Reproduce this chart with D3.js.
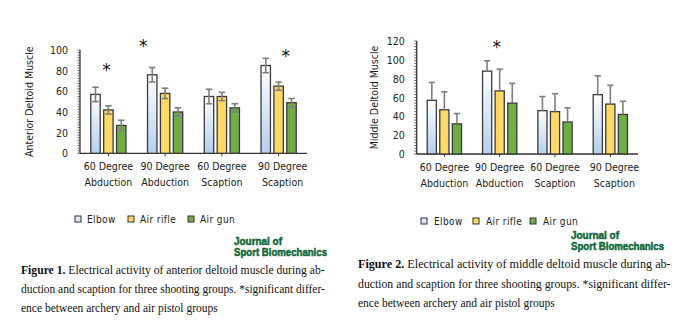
<!DOCTYPE html>
<html>
<head>
<meta charset="utf-8">
<script src="https://cdn.jsdelivr.net/npm/d3@7"></script>
<style>
  body { margin: 0; background: #fff; }
  svg { display: block; }
</style>
</head>
<body>
<div class="chart"></div>
<script>
// categories and groups
var categories = ["60 Degree|Abduction", "90 Degree|Abduction", "60 Degree|Scaption", "90 Degree|Scaption"];
var groups = ["Elbow", "Air rifle", "Air gun"];

// anterior deltoid (figure 1)
var anteriorMean = [[57, 42, 27], [76, 58, 40], [55, 55, 44], [85, 65, 49]];
var anteriorSd   = [[7, 4, 5], [7, 5, 4], [7, 4, 4], [7, 4, 4]];
var anteriorTicks = [0, 20, 40, 60, 80, 100];
var anteriorStars = [{cat: 0, level: 83}, {cat: 1, level: 106}, {cat: 3, level: 96}];

// middle deltoid (figure 2)
var middleMean = [[57, 47, 32], [88, 67, 54], [46, 45, 34], [63, 53, 42]];
var middleSd   = [[19, 19, 11], [11, 23, 21], [15, 19, 15], [20, 20, 14]];
var middleTicks = [0, 20, 40, 60, 80, 100, 120];
var middleStars = [{cat: 1, level: 116}];

var caption1 = ["Electrical activity of anterior deltoid muscle during ab-",
                "duction and scaption for three shooting groups. *significant differ-",
                "ence between archery and air pistol groups"];
var caption2 = ["Electrical activity of middle deltoid muscle during ab-",
                "duction and scaption for three shooting groups. *significant differ-",
                "ence between archery and air pistol groups"];

var fills = ["url(#gradElbow)", "#ffd966", "#70ad47"];
var legendFills = ["#dde9f6", "#ffd966", "#70ad47"];
var sansFont = "'DejaVu Sans Condensed', 'DejaVu Sans', sans-serif";

var svg = d3.select("body div.chart").append("svg").attr("width", 697).attr("height", 324);

var defs = svg.append("defs");
var grad = defs.append("linearGradient").attr("id", "gradElbow")
                .attr("x1", 0).attr("y1", 0).attr("x2", 0).attr("y2", 1);
grad.append("stop").attr("offset", "0%").attr("stop-color", "#ffffff");
grad.append("stop").attr("offset", "100%").attr("stop-color", "#b4cfec");

function drawChart(opt) {
    var g = svg.append("g");

    var x = d3.scaleBand().domain(d3.range(categories.length))
                .range([opt.left, opt.right]).paddingInner(0.38).paddingOuter(0.19);
    var xi = d3.scaleBand().domain(d3.range(groups.length))
                .range([0, x.bandwidth()]).paddingInner(0.27);
    var y = d3.scaleLinear().domain([0, opt.max]).range([opt.bottom, opt.top]);

    // y axis with minor ticks
    g.append("line").attr("x1", opt.left).attr("x2", opt.left)
        .attr("y1", y(0)).attr("y2", y(opt.max)).attr("stroke", "#333").attr("stroke-width", 1.3);
    g.selectAll("line.minor").data(d3.range(0, opt.max + 0.01, opt.minor))
        .enter().append("line").attr("class", "minor")
        .attr("x1", opt.left - 2.5).attr("x2", opt.left)
        .attr("y1", function(d) { return y(d); }).attr("y2", function(d) { return y(d); })
        .attr("stroke", "#444").attr("stroke-width", 0.8);
    g.selectAll("text.ytick").data(opt.ticks)
        .enter().append("text").attr("class", "ytick")
        .attr("x", opt.left - 12).attr("y", function(d) { return y(d) + 4; })
        .attr("text-anchor", "end").attr("font-family", sansFont).attr("font-size", 10.5)
        .attr("fill", "#222").text(function(d) { return d; });

    // x axis
    g.append("line").attr("x1", opt.left).attr("x2", opt.right)
        .attr("y1", y(0)).attr("y2", y(0)).attr("stroke", "#333").attr("stroke-width", 1.3);
    g.selectAll("line.xtick").data(d3.range(categories.length))
        .enter().append("line").attr("class", "xtick")
        .attr("x1", function(d) { return x(d) + x.bandwidth() / 2; })
        .attr("x2", function(d) { return x(d) + x.bandwidth() / 2; })
        .attr("y1", y(0)).attr("y2", y(0) + 3).attr("stroke", "#333");

    var catLabel = g.selectAll("text.cat").data(categories)
        .enter().append("text").attr("class", "cat")
        .attr("text-anchor", "middle").attr("font-family", sansFont).attr("font-size", 10.5)
        .attr("fill", "#222");
    catLabel.each(function(d, i) {
        var parts = d.split("|");
        var cx = x(i) + x.bandwidth() / 2 + (i == 3 ? 4 : 0);
        d3.select(this).selectAll("tspan").data(parts).enter().append("tspan")
            .attr("x", cx).attr("y", function(p, j) { return y(0) + 17 + j * 16; })
            .text(function(p) { return p; });
    });

    // y title
    g.append("text")
        .attr("transform", "translate(" + opt.titleX + "," + (y(0) + y(opt.max)) / 2 + ") rotate(-90)")
        .attr("text-anchor", "middle").attr("font-family", sansFont).attr("font-size", 10.5)
        .attr("fill", "#222").text(opt.title);

    // bars
    var cells = [];
    opt.mean.forEach(function(row, i) {
        row.forEach(function(v, j) { cells.push({c: i, s: j, v: v, sd: opt.sd[i][j]}); });
    });

    var bx = function(d) { return x(d.c) + xi(d.s); };

    g.selectAll("rect.bar").data(cells)
        .enter().append("rect").attr("class", "bar")
        .attr("x", bx).attr("y", function(d) { return y(d.v); })
        .attr("width", xi.bandwidth()).attr("height", function(d) { return y(0) - y(d.v); })
        .attr("fill", function(d) { return fills[d.s]; })
        .attr("stroke", "#3a3a3a").attr("stroke-width", 1.3);

    // error bars
    var eb = g.selectAll("g.err").data(cells).enter().append("g").attr("class", "err")
                .attr("stroke", "#7f7f7f").attr("stroke-width", 1.6);
    eb.append("line")
        .attr("x1", function(d) { return bx(d) + xi.bandwidth() / 2; })
        .attr("x2", function(d) { return bx(d) + xi.bandwidth() / 2; })
        .attr("y1", function(d) { return y(d.v + d.sd); })
        .attr("y2", function(d) { return opt.both ? y(d.v - d.sd) : y(d.v); });
    eb.append("line")
        .attr("x1", function(d) { return bx(d) + 1.5; })
        .attr("x2", function(d) { return bx(d) + xi.bandwidth() - 1.5; })
        .attr("y1", function(d) { return y(d.v + d.sd); })
        .attr("y2", function(d) { return y(d.v + d.sd); });
    if (opt.both) {
        eb.append("line")
            .attr("x1", function(d) { return bx(d) + 1.5; })
            .attr("x2", function(d) { return bx(d) + xi.bandwidth() - 1.5; })
            .attr("y1", function(d) { return y(d.v - d.sd); })
            .attr("y2", function(d) { return y(d.v - d.sd); });
    }

    // significance marks
    g.selectAll("text.star").data(opt.stars)
        .enter().append("text").attr("class", "star")
        .attr("x", function(d, i) { return x(d.cat) + x.bandwidth() / 2 + opt.starDx[i]; })
        .attr("y", function(d) { return y(d.level) + 8; })
        .attr("text-anchor", "middle").attr("font-family", "'DejaVu Sans', sans-serif")
        .attr("font-size", 17).attr("fill", "#111").text("*");

    // legend
    var lg = g.selectAll("g.leg").data(groups).enter().append("g").attr("class", "leg")
                .attr("transform", function(d, i) { return "translate(" + opt.legX[i] + "," + opt.legY + ")"; });
    lg.append("rect").attr("x", -3).attr("y", -3).attr("width", 6).attr("height", 6)
        .attr("fill", function(d, i) { return legendFills[i]; })
        .attr("stroke", "#333").attr("stroke-width", 1);
    lg.append("text").attr("x", opt.legTx).attr("y", 3.5)
        .attr("font-family", sansFont).attr("font-size", 10).attr("fill", "#222")
        .attr("letter-spacing", 0.4)
        .text(function(d) { return d; });

    // journal mark
    var jm = g.append("g").attr("font-family", "'Liberation Sans', Arial, sans-serif")
                .attr("font-weight", "bold").attr("font-size", 10).attr("fill", "#12683a")
                .attr("stroke", "#12683a").attr("stroke-width", 0.5);
    jm.append("text").attr("x", opt.jx).attr("y", opt.jy)
        .attr("textLength", 48).attr("lengthAdjust", "spacingAndGlyphs").text("Journal of");
    jm.append("text").attr("x", opt.jx).attr("y", opt.jy + 11)
        .attr("textLength", 93).attr("lengthAdjust", "spacingAndGlyphs").text("Sport Biomechanics");

    // caption: font size scaled so each line fills its measured width
    opt.caption.forEach(function(line, i) {
        var t = g.append("text").attr("x", opt.capX).attr("y", opt.capY + i * opt.capStep)
                    .attr("font-family", "'Liberation Serif', 'Times New Roman', serif")
                    .attr("font-size", 13).attr("fill", "#111");
        if (i == 0) {
            t.append("tspan").attr("font-weight", "bold").text(opt.figLabel + " ");
        }
        t.append("tspan").text(line);
        var w = t.node().getComputedTextLength();
        t.attr("font-size", Math.min(13.5, 13 * opt.capLen[i] / w));
    });
}

drawChart({
    left: 80, right: 307, bottom: 153.3, top: 50, max: 100, minor: 2.5,
    ticks: anteriorTicks, mean: anteriorMean, sd: anteriorSd, both: true,
    title: "Anterior Deltoid Muscle", titleX: 33,
    stars: anteriorStars, starDx: [-2, -22, 7],
    legX: [78, 131, 191], legTx: 9, legY: 219,
    jx: 234, jy: 245,
    caption: caption1, figLabel: "Figure 1.", capX: 21, capY: 274, capStep: 19,
    capLen: [304, 304, 197]
});

drawChart({
    left: 416.7, right: 638, bottom: 154, top: 41, max: 120, minor: 3,
    ticks: middleTicks, mean: middleMean, sd: middleSd, both: false,
    title: "Middle Deltoid Muscle", titleX: 378,
    stars: middleStars, starDx: [-3],
    legX: [424, 476, 533], legTx: 10, legY: 221,
    jx: 571, jy: 239,
    caption: caption2, figLabel: "Figure 2.", capX: 358, capY: 268, capStep: 19.5,
    capLen: [313, 313, 197]
});
</script>
</body>
</html>
